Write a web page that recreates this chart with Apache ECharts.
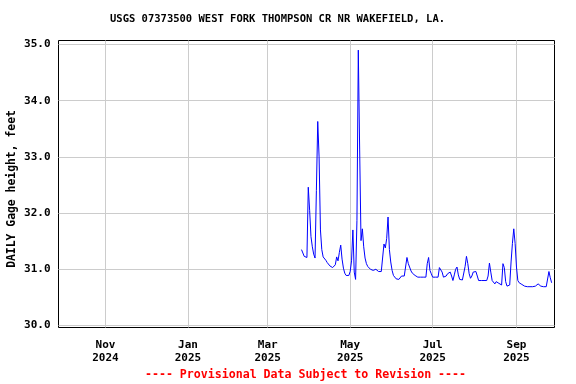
<!DOCTYPE html>
<html>
<head>
<meta charset="utf-8">
<script src="https://cdn.jsdelivr.net/npm/echarts@6/dist/echarts.min.js"></script>
<style>
html,body{margin:0;padding:0;background:#fff;}
#chart{width:576px;height:384px;}
</style>
</head>
<body>
<div id="chart"></div>
<script>
// ---- Data ----
var titleText = 'USGS 07373500 WEST FORK THOMPSON CR NR WAKEFIELD, LA.';
var yAxisTitle = 'DAILY Gage height, feet';
var footerText = '---- Provisional Data Subject to Revision ----';
var startDate = '2025-03-26'; // first daily value
var gageHeight = [
  31.35,31.29,31.23,31.25,31.21,32.46,32.05,31.58,31.40,31.27,
  31.20,32.40,33.63,33.00,31.70,31.35,31.22,31.19,31.16,31.12,
  31.09,31.06,31.04,31.03,31.03,31.08,31.22,31.15,31.30,31.43,
  31.18,31.02,30.93,30.89,30.88,30.89,30.96,31.15,31.70,30.95,
  30.82,31.87,34.90,33.14,31.51,31.72,31.40,31.20,31.10,31.05,
  31.02,31.00,30.99,30.98,30.98,31.00,30.97,30.96,30.96,30.96,
  30.96,31.45,31.38,31.55,31.93,31.35,31.13,30.98,30.89,30.86,
  30.83,30.82,30.82,30.84,30.88,30.88,30.88,30.88,31.21,31.10,
  31.12,30.97,30.93,30.92,30.89,30.87,30.86,30.86,30.86,30.86,
  30.86,30.86,30.86,31.10,31.21,30.98,30.92,30.86,30.86,30.86,
  30.86,30.86,31.03,31.03,30.95,30.86,30.83,30.88,30.92,30.89,
  30.95,30.88,30.80,30.90,31.00,31.04,30.90,30.82,30.81,30.81,
  30.81,31.05,31.23,31.10,30.92,30.84,30.88,30.95,30.98,30.96,
  30.88,30.80,30.80,30.80,30.80,30.80,30.80,30.80,30.88,31.11,
  30.95,30.80,30.77,30.74,30.78,30.76,30.75,30.74,30.72,31.10,
  31.03,30.78,30.70,30.69,30.72,31.13,31.46,31.72,31.46,31.04,
  30.80,30.76,30.75,30.73,30.72,30.70,30.69,30.69,30.69,30.69,
  30.69,30.69,30.70,30.70,30.71,30.74,30.74,30.70,30.69,30.69,
  30.69,30.69,30.72,30.96,30.85,30.76
];
var xTickDates = ['2024-11-01','2025-01-01','2025-03-01','2025-05-01','2025-07-01','2025-09-01'];
var monthNames = ['Jan','Feb','Mar','Apr','May','Jun','Jul','Aug','Sep','Oct','Nov','Dec'];
var yTicks = [30, 31, 32, 33, 34, 35];
var xMinDate = '2024-09-27';
var xMaxDate = '2025-09-29';
var yMin = 29.964;
var yMax = 35.071;

// ---- Build series ----
function parseDay(s){ var p = s.split('-'); return new Date(+p[0], +p[1]-1, +p[2]).getTime(); }
var start = parseDay(startDate);
var seriesData = gageHeight.map(function(v, i){
  var d = new Date(start); d.setDate(d.getDate() + i);
  return [d.getTime(), v];
});
var xTickValues = xTickDates.map(parseDay);
var hour = 3600 * 1000;
var xMin = parseDay(xMinDate) + 6 * hour;
var xMax = parseDay(xMaxDate) + 3 * hour;

var fontMono = '"DejaVu Sans Mono", "Liberation Mono", monospace';
var chart = echarts.init(document.getElementById('chart'), null, {renderer: 'canvas'});
chart.setOption({
  animation: false,
  backgroundColor: '#ffffff',
  grid: {left: 58.5, right: 21.5, top: 40.5, bottom: 56.5, show: true, borderColor: '#000', borderWidth: 1, backgroundColor: 'transparent'},
  xAxis: {
    type: 'value',
    min: xMin,
    max: xMax,
    axisLine: {show: false},
    axisTick: {show: false, customValues: xTickValues},
    splitLine: {show: true, lineStyle: {color: '#cccccc', width: 1}},
    axisLabel: {
      customValues: xTickValues,
      margin: 11,
      color: '#000',
      fontFamily: fontMono,
      fontWeight: 'bold',
      fontSize: 11,
      lineHeight: 13,
      formatter: function(v){ var d = new Date(v); return monthNames[d.getMonth()] + '\n' + d.getFullYear(); }
    }
  },
  yAxis: {
    type: 'value',
    min: yMin,
    max: yMax,
    axisLine: {show: false},
    axisTick: {show: false, customValues: yTicks},
    splitLine: {show: true, lineStyle: {color: '#cccccc', width: 1}},
    axisLabel: {
      customValues: yTicks,
      margin: 8,
      color: '#000',
      fontFamily: fontMono,
      fontWeight: 'bold',
      fontSize: 11,
      formatter: function(v){ return v.toFixed(1); }
    }
  },
  graphic: [
    {type: 'text', left: 110, top: 14, style: {text: titleText, fill: '#000', font: 'bold 10.5px ' + fontMono}},
    {type: 'text', x: 12, y: 189, rotation: Math.PI/2, style: {text: yAxisTitle, fill: '#000', font: 'bold 11.4px ' + fontMono, align: 'center', verticalAlign: 'middle'}},
    {type: 'text', x: 305.5, y: 375, style: {text: footerText, fill: '#ff0000', font: 'bold 11.6px ' + fontMono, align: 'center', verticalAlign: 'middle'}}
  ],
  series: [{
    type: 'line',
    data: seriesData,
    showSymbol: false,
    symbol: 'none',
    lineStyle: {color: '#0000ff', width: 1},
    itemStyle: {color: '#0000ff'}
  }]
});
</script>
</body>
</html>
